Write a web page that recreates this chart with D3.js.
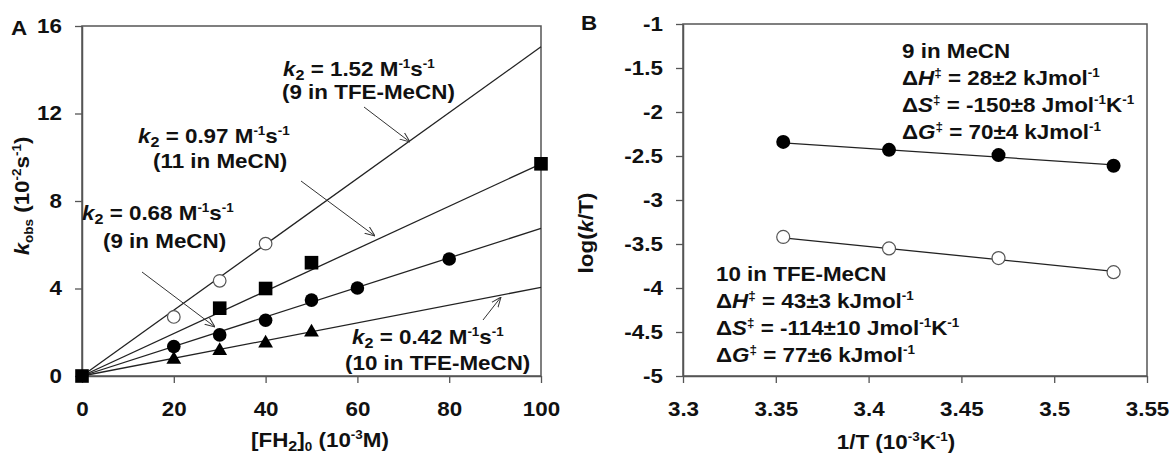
<!DOCTYPE html>
<html>
<head>
<meta charset="utf-8">
<script src="https://cdn.jsdelivr.net/npm/d3@7"></script>
<style>
  body { margin: 0; background: #fff; }
  text { font-family: "Liberation Sans", Arial, sans-serif; font-weight: bold; fill: #111; }
</style>
</head>
<body>
<svg id="chart" width="1171" height="457"></svg>
<script>
// panel A: kobs vs [FH2]0
const concTfe9 = [20, 30, 40]
const kTfe9 = [2.7, 4.35, 6.05]
const conc11 = [0, 30, 40, 50, 100]
const k11 = [0, 3.1, 4.0, 5.18, 9.7]
const conc9 = [20, 30, 40, 50, 60, 80]
const k9 = [1.35, 1.88, 2.55, 3.47, 4.02, 5.35]
const conc10 = [20, 30, 40, 50]
const k10 = [0.75, 1.15, 1.5, 2.0]
// fitted lines, value read at [FH2]0 = 100
const fitEndsA = [15.05, 9.7, 6.75, 4.05]
const xTicksA = [0, 20, 40, 60, 80, 100]
const yTicksA = [0, 4, 8, 12, 16]

// panel B: Eyring plot
const invT = [3.354, 3.411, 3.470, 3.532]
const logMeCN9 = [-2.34, -2.43, -2.49, -2.61]
const logTfe10 = [-3.42, -3.55, -3.66, -3.82]
const fitMeCN9 = [-2.35, -2.60]
const fitTfe10 = [-3.43, -3.81]
const xTicksB = [3.3, 3.35, 3.4, 3.45, 3.5, 3.55]
const yTicksB = [-5, -4.5, -4, -3.5, -3, -2.5, -2, -1.5, -1]

const svg = d3.select('#chart')
const FS = 20
const SX = 1.12
const lineCol = '#222'
const frameCol = '#555'

// arrowhead
svg.append('defs').append('marker')
    .attr('id', 'arr')
    .attr('viewBox', '0 0 10 10')
    .attr('refX', 10).attr('refY', 5)
    .attr('markerWidth', 10).attr('markerHeight', 10)
    .attr('orient', 'auto')
  .append('path')
    .attr('d', 'M0,1 L10,5 L0,9')
    .attr('fill', 'none')
    .attr('stroke', '#333')
    .attr('stroke-width', 1)

// rich text with sub/superscripts, stretched a bit horizontally
function rich (x, y, parts, opts = {}) {
  const g = svg.append('g')
    .attr('transform', `translate(${x},${y}) rotate(${opts.rot || 0}) scale(${SX},1)`)
  const t = g.append('text')
    .attr('text-anchor', opts.anchor || 'start')
    .attr('font-size', FS)
  let shift = 0
  parts.forEach(p => {
    const target = p.sup ? -8 : p.sub ? 4 : 0
    t.append('tspan')
      .attr('dy', target - shift)
      .attr('font-size', p.sup ? FS * 0.6 : p.sub ? FS * (p.small ? 0.6 : 0.72) : FS)
      .attr('font-style', p.i ? 'italic' : null)
      .text(p.t)
    shift = target
  })
  return g
}

function styleAxis (g) {
  g.select('.domain').attr('stroke', frameCol).attr('stroke-width', 1.5)
  g.selectAll('.tick line').attr('stroke', frameCol).attr('stroke-width', 1.3)
  g.selectAll('.tick text')
    .attr('font-size', FS)
    .attr('font-family', '"Liberation Sans", Arial, sans-serif')
    .attr('font-weight', 'bold')
    .attr('fill', '#111')
    .attr('transform', `scale(${SX},1)`)
}

// ---------- panel A ----------
const xA = d3.scaleLinear().domain([0, 100]).range([82, 541])
const yA = d3.scaleLinear().domain([0, 16]).range([376, 26])

svg.append('rect')
    .attr('x', xA(0)).attr('y', yA(16))
    .attr('width', xA(100) - xA(0)).attr('height', yA(0) - yA(16))
    .attr('fill', 'none').attr('stroke', frameCol).attr('stroke-width', 1.5)

const axLA = svg.append('g')
    .attr('transform', `translate(${xA(0)},0)`)
    .call(d3.axisLeft(yA).tickValues(yTicksA).tickSize(7).tickSizeOuter(0).tickPadding(11))
styleAxis(axLA)

const axBA = svg.append('g')
    .attr('transform', `translate(0,${yA(0)})`)
    .call(d3.axisBottom(xA).tickValues(xTicksA).tickSize(7).tickSizeOuter(0).tickPadding(19))
styleAxis(axBA)

// fit lines
svg.selectAll('.fitA')
  .data(fitEndsA)
  .enter()
  .append('line')
    .attr('x1', xA(0)).attr('y1', yA(0))
    .attr('x2', xA(100)).attr('y2', d => yA(d))
    .attr('stroke', lineCol).attr('stroke-width', 1.3)

const zip = (xs, ys) => xs.map((x, i) => [x, ys[i]])

svg.selectAll('.tfe9')
  .data(zip(concTfe9, kTfe9))
  .enter()
  .append('circle')
    .attr('cx', d => xA(d[0])).attr('cy', d => yA(d[1]))
    .attr('r', 6.3)
    .attr('fill', '#fff').attr('stroke', '#555').attr('stroke-width', 1.2)

svg.selectAll('.m9')
  .data(zip(conc9, k9))
  .enter()
  .append('circle')
    .attr('cx', d => xA(d[0])).attr('cy', d => yA(d[1]))
    .attr('r', 6.8)
    .attr('fill', '#000')

svg.selectAll('.t10')
  .data(zip(conc10, k10))
  .enter()
  .append('path')
    .attr('d', d3.symbol(d3.symbolTriangle, 95))
    .attr('transform', d => `translate(${xA(d[0])},${yA(d[1])})`)
    .attr('fill', '#000')

svg.selectAll('.s11')
  .data(zip(conc11, k11))
  .enter()
  .append('path')
    .attr('d', d3.symbol(d3.symbolSquare, 185))
    .attr('transform', d => `translate(${xA(d[0])},${yA(d[1])})`)
    .attr('fill', '#000')

// annotations
const kPart = v => [{ t: 'k', i: true }, { t: '2', sub: true }, { t: ' = ' + v + ' M' }, { t: '-1', sup: true }, { t: 's' }, { t: '-1', sup: true }]
rich(283, 76, kPart('1.52'))
rich(282, 99, [{ t: '(9 in TFE-MeCN)' }])
rich(138, 143, kPart('0.97'))
rich(153, 168, [{ t: '(11 in MeCN)' }])
rich(82, 220, kPart('0.68'))
rich(103, 248, [{ t: '(9 in MeCN)' }])
rich(352, 344, kPart('0.42'))
rich(345, 370, [{ t: '(10 in TFE-MeCN)' }])

const arrows = [
  [364, 107, 410, 142],
  [301, 181, 375, 236],
  [142, 272, 215, 327],
  [483, 320, 501, 297]
]
svg.selectAll('.arrow')
  .data(arrows)
  .enter()
  .append('line')
    .attr('x1', d => d[0]).attr('y1', d => d[1])
    .attr('x2', d => d[2]).attr('y2', d => d[3])
    .attr('stroke', '#333').attr('stroke-width', 1)
    .attr('marker-end', 'url(#arr)')

rich(29, 196, [{ t: 'k', i: true }, { t: 'obs', sub: true, small: true }, { t: ' (10' }, { t: '-2', sup: true }, { t: 's' }, { t: '-1', sup: true }, { t: ')' }], { anchor: 'middle', rot: -90 })
rich(320, 447, [{ t: '[FH' }, { t: '2', sub: true }, { t: ']' }, { t: '0', sub: true, small: true }, { t: ' (10' }, { t: '-3', sup: true }, { t: 'M)' }], { anchor: 'middle' })
rich(11, 35, [{ t: 'A' }])

// ---------- panel B ----------
const xB = d3.scaleLinear().domain([3.3, 3.55]).range([683, 1147])
const yB = d3.scaleLinear().domain([-5, -1]).range([376, 24])

svg.append('rect')
    .attr('x', xB(3.3)).attr('y', yB(-1))
    .attr('width', xB(3.55) - xB(3.3)).attr('height', yB(-5) - yB(-1))
    .attr('fill', 'none').attr('stroke', frameCol).attr('stroke-width', 1.5)

const axLB = svg.append('g')
    .attr('transform', `translate(${xB(3.3)},0)`)
    .call(d3.axisLeft(yB).tickValues(yTicksB).tickFormat(d => String(d)).tickSize(7).tickSizeOuter(0).tickPadding(11))
styleAxis(axLB)

const axBB = svg.append('g')
    .attr('transform', `translate(0,${yB(-5)})`)
    .call(d3.axisBottom(xB).tickValues(xTicksB).tickFormat(d => String(d)).tickSize(7).tickSizeOuter(0).tickPadding(19))
styleAxis(axBB)

const lineB = d3.line().x(d => xB(d[0])).y(d => yB(d[1]))
const xFit = [invT[0], invT[invT.length - 1]]
svg.append('path')
    .attr('d', lineB(zip(xFit, fitMeCN9)))
    .attr('fill', 'none').attr('stroke', lineCol).attr('stroke-width', 1.3)
svg.append('path')
    .attr('d', lineB(zip(xFit, fitTfe10)))
    .attr('fill', 'none').attr('stroke', lineCol).attr('stroke-width', 1.3)

svg.selectAll('.b9')
  .data(zip(invT, logMeCN9))
  .enter()
  .append('circle')
    .attr('cx', d => xB(d[0])).attr('cy', d => yB(d[1]))
    .attr('r', 7)
    .attr('fill', '#000')

svg.selectAll('.b10')
  .data(zip(invT, logTfe10))
  .enter()
  .append('circle')
    .attr('cx', d => xB(d[0])).attr('cy', d => yB(d[1]))
    .attr('r', 6.5)
    .attr('fill', '#fff').attr('stroke', '#555').attr('stroke-width', 1.2)

const dPart = (sym, val, unit) => {
  const p = [{ t: 'Δ' }, { t: sym, i: true }, { t: '‡', sup: true }, { t: ' = ' + val + ' kJmol' }, { t: '-1', sup: true }]
  if (unit === 'S') {
    p[3].t = ' = ' + val + ' Jmol'
    p.push({ t: 'K' }, { t: '-1', sup: true })
  }
  return p
}
rich(902, 58, [{ t: '9 in MeCN' }])
rich(902, 85, dPart('H', '28±2'))
rich(902, 112, dPart('S', '-150±8', 'S'))
rich(902, 139, dPart('G', '70±4'))

rich(716, 281, [{ t: '10 in TFE-MeCN' }])
rich(716, 308, dPart('H', '43±3'))
rich(716, 335, dPart('S', '-114±10', 'S'))
rich(716, 362, dPart('G', '77±6'))

rich(593, 233, [{ t: 'log(' }, { t: 'k', i: true }, { t: '/T)' }], { anchor: 'middle', rot: -90 })
rich(896, 449, [{ t: '1/T (10' }, { t: '-3', sup: true }, { t: 'K' }, { t: '-1', sup: true }, { t: ')' }], { anchor: 'middle' })
rich(581, 30, [{ t: 'B' }])
</script>
</body>
</html>
